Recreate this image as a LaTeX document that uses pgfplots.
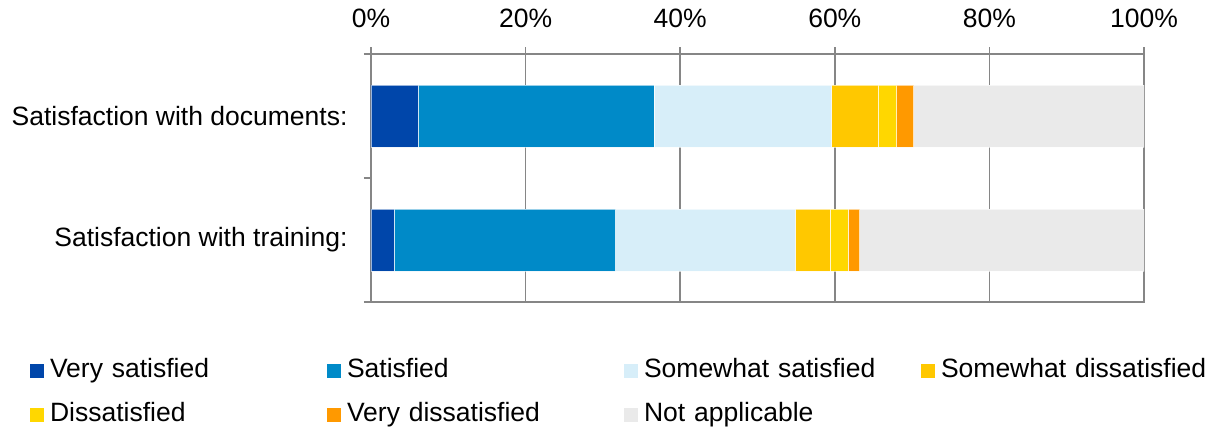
\documentclass[border=0pt]{standalone}
\usepackage{pgfplots}
\pgfplotsset{compat=1.18}
\usepackage{fontspec}
\setmainfont{Liberation Sans}
\definecolor{cVS}{RGB}{0,70,170}
\definecolor{cS}{RGB}{0,138,200}
\definecolor{cSS}{RGB}{215,238,249}
\definecolor{cSD}{RGB}{255,200,0}
\definecolor{cD}{RGB}{255,215,0}
\definecolor{cVD}{RGB}{255,153,0}
\definecolor{cNA}{RGB}{234,234,234}
\definecolor{axgray}{RGB}{134,134,134}
\begin{document}
\begin{tikzpicture}
\begin{axis}[
  xbar stacked,
  scale only axis,
  width=773bp, height=248bp,
  xmin=0, xmax=100,
  ymin=-0.5, ymax=1.5,
  y dir=reverse,
  bar width=62bp,
  axis line style={draw=axgray, line width=1.5bp},
  xmajorgrids,
  grid style={draw=axgray, line width=1.5bp},
  xtick={0,20,40,60,80,100},
  xticklabels={0\%,20\%,40\%,60\%,80\%,100\%},
  xtick pos=upper, xticklabel pos=upper,
  tick align=outside,
  major tick length=7bp,
  minor tick length=7bp,
  x tick style={draw=axgray, line width=1.5bp},
  ytick={0,1},
  yticklabels={Satisfaction with documents:,Satisfaction with training:},
  minor ytick={-0.5,0.5,1.5},
  ytick pos=left,
  major y tick style={draw=none},
  minor y tick style={draw=axgray, line width=1.5bp},
  every tick label/.append style={font=\fontsize{26.6}{30}\selectfont, text=black},
  xticklabel style={yshift=16bp},
  yticklabel style={xshift=-13bp},
  legend columns=4,
  legend cell align=left,
  legend image code/.code={\fill[#1, draw=none] (0bp,-7bp) rectangle (14bp,7bp);},
  legend style={
    at={(-0.4411,-0.2258)}, anchor=north west,
    draw=none, fill=none, inner sep=0pt, outer sep=0pt,
    font=\fontsize{26.6}{30}\selectfont,
    row sep=19bp, column sep=0bp,
    nodes={text width=271bp, inner xsep=6bp, inner ysep=0bp, text height=19bp, text depth=6bp, align=left},
  },
  every axis plot/.append style={draw=white, draw opacity=0.6, line width=0.6bp},
]
\addplot[fill=cVS] coordinates {(6.1,0) (3.0,1)};
\addplot[fill=cS] coordinates {(30.5,0) (28.6,1)};
\addplot[fill=cSS] coordinates {(23.0,0) (23.3,1)};
\addplot[fill=cSD] coordinates {(6.0,0) (4.5,1)};
\addplot[fill=cD] coordinates {(2.4,0) (2.3,1)};
\addplot[fill=cVD] coordinates {(2.2,0) (1.5,1)};
\addplot[fill=cNA] coordinates {(29.8,0) (36.8,1)};
\legend{Very satisfied,Satisfied,Somewhat satisfied,Somewhat dissatisfied,Dissatisfied,Very dissatisfied,Not applicable}
\end{axis}
\pgfresetboundingbox
\path[use as bounding box] ([xshift=-371bp,yshift=-130bp]current axis.south west) rectangle ([xshift=845bp,yshift=302bp]current axis.south west);
\end{tikzpicture}
\end{document}
